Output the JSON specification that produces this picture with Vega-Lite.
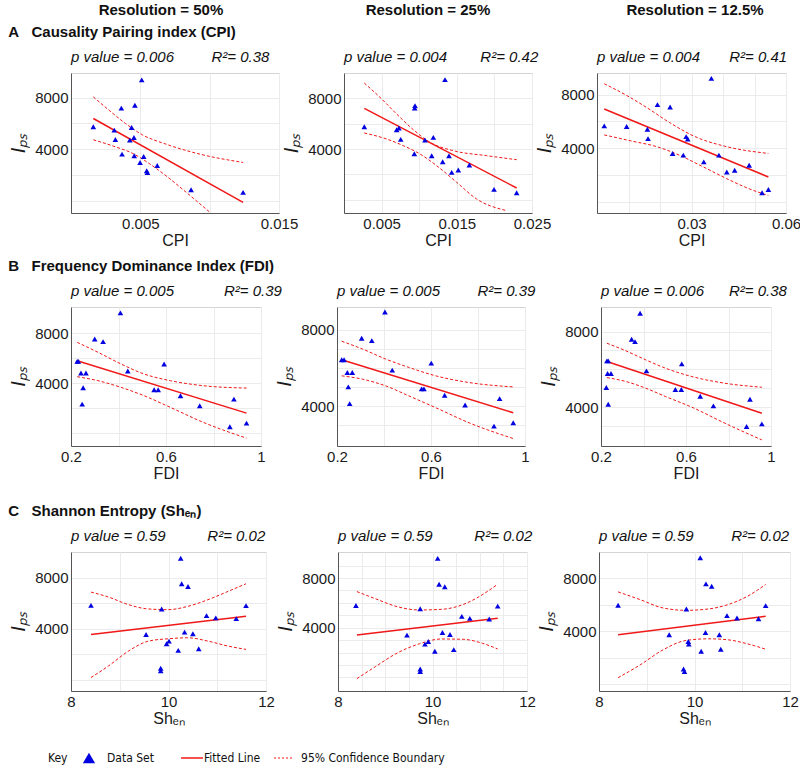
{
"$schema": "https://vega.github.io/schema/vega-lite/v6.json",
"padding": {"left": 8, "top": 2, "right": 0, "bottom": 2},
"config": {
 "font": "Liberation Sans",
 "view": {"stroke": "#d4d4d4"},
 "axis": {"domainColor": "#555", "gridColor": "#ebebeb", "tickSize": 0, "labelFontSize": 15, "labelColor": "#1a1a1a", "labelPadding": 3, "labelFlush": false, "labelOverlap": false, "titleFontSize": 16, "titleFontWeight": "normal", "titleColor": "#1a1a1a"},
 "axisY": {"titleFontSize": 20, "titleFontStyle": "italic", "titlePadding": 6},
 "axisX": {"titlePadding": 1}
},
"datasets": {
 "hdr": [{"label": "Resolution = 50%", "c": 0}, {"label": "Resolution = 25%", "c": 1}, {"label": "Resolution = 12.5%", "c": 2}],
 "key": [
  {"k": "label", "t": "Key", "x": -3.19},
  {"k": "marker", "x": 2.49},
  {"k": "label", "t": "Data Set", "x": 4.99},
  {"k": "solid", "x": 15.24, "x2": 18.28},
  {"k": "label", "t": "Fitted Line", "x": 18.42},
  {"k": "dashed", "x": 28.12, "x2": 30.89},
  {"k": "label", "t": "95% Confidence Boundary", "x": 31.86}
 ],
 "pts": [
  {"p":"A1","x":0.0051,"y":9366},{"p":"A1","x":0.00363,"y":7174},{"p":"A1","x":0.00461,"y":7406},{"p":"A1","x":0.00161,"y":5729},{"p":"A1","x":0.00312,"y":5471},{"p":"A1","x":0.00437,"y":5677},{"p":"A1","x":0.0032,"y":4748},{"p":"A1","x":0.00454,"y":4903},{"p":"A1","x":0.00424,"y":4697},{"p":"A1","x":0.00368,"y":3613},{"p":"A1","x":0.00456,"y":3484},{"p":"A1","x":0.00524,"y":3432},{"p":"A1","x":0.00498,"y":2968},{"p":"A1","x":0.00546,"y":2323},{"p":"A1","x":0.00551,"y":2194},{"p":"A1","x":0.00622,"y":2735},{"p":"A1","x":0.00866,"y":852},{"p":"A1","x":0.01241,"y":645},
  {"p":"A2","x":0.0027,"y":5763},{"p":"A2","x":0.007,"y":5526},{"p":"A2","x":0.0073,"y":5658},{"p":"A2","x":0.00754,"y":4763},{"p":"A2","x":0.00944,"y":7421},{"p":"A2","x":0.0094,"y":7237},{"p":"A2","x":0.00935,"y":3632},{"p":"A2","x":0.01077,"y":4711},{"p":"A2","x":0.01188,"y":4921},{"p":"A2","x":0.01166,"y":3474},{"p":"A2","x":0.01343,"y":9474},{"p":"A2","x":0.01312,"y":3000},{"p":"A2","x":0.01396,"y":3474},{"p":"A2","x":0.01432,"y":2158},{"p":"A2","x":0.0152,"y":2342},{"p":"A2","x":0.01667,"y":2737},{"p":"A2","x":0.01995,"y":816},{"p":"A2","x":0.02296,"y":553},
  {"p":"A3","x":0.0023,"y":5675},{"p":"A3","x":0.0094,"y":5625},{"p":"A3","x":0.016,"y":5425},{"p":"A3","x":0.0162,"y":4725},{"p":"A3","x":0.0192,"y":7250},{"p":"A3","x":0.0232,"y":7075},{"p":"A3","x":0.0283,"y":4875},{"p":"A3","x":0.0288,"y":4700},{"p":"A3","x":0.024,"y":3625},{"p":"A3","x":0.0274,"y":3500},{"p":"A3","x":0.0363,"y":9200},{"p":"A3","x":0.0339,"y":3000},{"p":"A3","x":0.0387,"y":3500},{"p":"A3","x":0.0412,"y":2250},{"p":"A3","x":0.0437,"y":2375},{"p":"A3","x":0.0483,"y":2750},{"p":"A3","x":0.0524,"y":700},{"p":"A3","x":0.0544,"y":950},
  {"p":"B1","x":0.226,"y":5760},{"p":"B1","x":0.231,"y":5760},{"p":"B1","x":0.242,"y":4827},{"p":"B1","x":0.263,"y":4827},{"p":"B1","x":0.251,"y":3653},{"p":"B1","x":0.247,"y":2347},{"p":"B1","x":0.3,"y":7547},{"p":"B1","x":0.335,"y":7333},{"p":"B1","x":0.408,"y":9627},{"p":"B1","x":0.439,"y":4987},{"p":"B1","x":0.55,"y":3493},{"p":"B1","x":0.567,"y":3493},{"p":"B1","x":0.592,"y":5547},{"p":"B1","x":0.661,"y":3013},{"p":"B1","x":0.742,"y":2213},{"p":"B1","x":0.869,"y":533},{"p":"B1","x":0.886,"y":2747},{"p":"B1","x":0.939,"y":827},
  {"p":"B2","x":0.22,"y":6432},{"p":"B2","x":0.23,"y":6432},{"p":"B2","x":0.244,"y":5762},{"p":"B2","x":0.265,"y":5762},{"p":"B2","x":0.248,"y":5004},{"p":"B2","x":0.254,"y":4123},{"p":"B2","x":0.305,"y":7559},{"p":"B2","x":0.348,"y":7436},{"p":"B2","x":0.404,"y":8934},{"p":"B2","x":0.435,"y":5885},{"p":"B2","x":0.56,"y":4899},{"p":"B2","x":0.57,"y":4899},{"p":"B2","x":0.601,"y":6255},{"p":"B2","x":0.658,"y":4564},{"p":"B2","x":0.745,"y":4053},{"p":"B2","x":0.868,"y":2943},{"p":"B2","x":0.892,"y":4388},{"p":"B2","x":0.95,"y":3119},
  {"p":"B3","x":0.225,"y":5040},{"p":"B3","x":0.228,"y":6449},{"p":"B3","x":0.234,"y":6449},{"p":"B3","x":0.231,"y":5780},{"p":"B3","x":0.247,"y":5780},{"p":"B3","x":0.234,"y":4159},{"p":"B3","x":0.344,"y":7594},{"p":"B3","x":0.36,"y":7471},{"p":"B3","x":0.384,"y":8969},{"p":"B3","x":0.414,"y":5921},{"p":"B3","x":0.55,"y":4934},{"p":"B3","x":0.578,"y":4934},{"p":"B3","x":0.58,"y":6291},{"p":"B3","x":0.667,"y":4581},{"p":"B3","x":0.729,"y":4070},{"p":"B3","x":0.885,"y":2978},{"p":"B3","x":0.901,"y":4423},{"p":"B3","x":0.957,"y":3119},
  {"p":"C1","x":8.41,"y":5818},{"p":"C1","x":9.54,"y":3533},{"p":"C1","x":9.86,"y":5532},{"p":"C1","x":9.84,"y":884},{"p":"C1","x":9.84,"y":676},{"p":"C1","x":9.96,"y":2805},{"p":"C1","x":10.01,"y":3013},{"p":"C1","x":10.2,"y":2286},{"p":"C1","x":10.25,"y":9506},{"p":"C1","x":10.27,"y":7507},{"p":"C1","x":10.4,"y":7299},{"p":"C1","x":10.33,"y":3714},{"p":"C1","x":10.5,"y":3584},{"p":"C1","x":10.62,"y":2416},{"p":"C1","x":10.78,"y":5013},{"p":"C1","x":10.97,"y":4831},{"p":"C1","x":11.39,"y":4779},{"p":"C1","x":11.59,"y":5792},
  {"p":"C2","x":8.38,"y":5792},{"p":"C2","x":9.46,"y":3403},{"p":"C2","x":9.74,"y":5532},{"p":"C2","x":9.74,"y":676},{"p":"C2","x":9.74,"y":468},{"p":"C2","x":9.84,"y":2676},{"p":"C2","x":9.91,"y":2883},{"p":"C2","x":10.05,"y":2104},{"p":"C2","x":10.11,"y":9584},{"p":"C2","x":10.14,"y":7506},{"p":"C2","x":10.26,"y":7298},{"p":"C2","x":10.21,"y":3610},{"p":"C2","x":10.37,"y":3455},{"p":"C2","x":10.45,"y":2234},{"p":"C2","x":10.62,"y":4909},{"p":"C2","x":10.79,"y":4753},{"p":"C2","x":11.2,"y":4701},{"p":"C2","x":11.38,"y":5740},
  {"p":"C3","x":8.4,"y":5975},{"p":"C3","x":9.47,"y":3747},{"p":"C3","x":9.83,"y":5696},{"p":"C3","x":9.77,"y":1164},{"p":"C3","x":9.79,"y":962},{"p":"C3","x":9.87,"y":3240},{"p":"C3","x":9.88,"y":3038},{"p":"C3","x":10.14,"y":2506},{"p":"C3","x":10.12,"y":9570},{"p":"C3","x":10.24,"y":7595},{"p":"C3","x":10.36,"y":7418},{"p":"C3","x":10.23,"y":3924},{"p":"C3","x":10.52,"y":3747},{"p":"C3","x":10.55,"y":2658},{"p":"C3","x":10.68,"y":5190},{"p":"C3","x":10.89,"y":5013},{"p":"C3","x":11.34,"y":4962},{"p":"C3","x":11.49,"y":5950}
 ],
 "lines": [
  {"p":"A1","s":"fit","x":0.00161,"y":6374},{"p":"A1","s":"fit","x":0.01241,"y":-128},
  {"p":"A1","s":"up","x":0.00161,"y":8051},{"p":"A1","s":"up","x":0.00271,"y":7044},{"p":"A1","s":"up","x":0.00393,"y":5987},{"p":"A1","s":"up","x":0.00515,"y":5109},{"p":"A1","s":"up","x":0.00685,"y":4387},{"p":"A1","s":"up","x":0.00929,"y":3613},{"p":"A1","s":"up","x":0.01241,"y":2968},
  {"p":"A1","s":"lo","x":0.00161,"y":4722},{"p":"A1","s":"lo","x":0.0032,"y":4181},{"p":"A1","s":"lo","x":0.00441,"y":3690},{"p":"A1","s":"lo","x":0.00563,"y":2891},{"p":"A1","s":"lo","x":0.00685,"y":1936},{"p":"A1","s":"lo","x":0.00832,"y":645},{"p":"A1","s":"lo","x":0.01002,"y":-902},
  {"p":"A2","s":"fit","x":0.0027,"y":7211},{"p":"A2","s":"fit","x":0.02296,"y":923},
  {"p":"A2","s":"up","x":0.0027,"y":9207},{"p":"A2","s":"up","x":0.00479,"y":8077},{"p":"A2","s":"up","x":0.007,"y":6762},{"p":"A2","s":"up","x":0.00922,"y":5526},{"p":"A2","s":"up","x":0.01144,"y":4526},{"p":"A2","s":"up","x":0.01454,"y":3868},{"p":"A2","s":"up","x":0.01897,"y":3474},{"p":"A2","s":"up","x":0.02296,"y":3158},
  {"p":"A2","s":"lo","x":0.0027,"y":5263},{"p":"A2","s":"lo","x":0.00567,"y":4789},{"p":"A2","s":"lo","x":0.00789,"y":4263},{"p":"A2","s":"lo","x":0.01011,"y":3605},{"p":"A2","s":"lo","x":0.01232,"y":2684},{"p":"A2","s":"lo","x":0.01498,"y":1370},{"p":"A2","s":"lo","x":0.01764,"y":55},{"p":"A2","s":"lo","x":0.02163,"y":-865},
  {"p":"A3","s":"fit","x":0.0023,"y":6925},{"p":"A3","s":"fit","x":0.0544,"y":1875},
  {"p":"A3","s":"up","x":0.0023,"y":8800},{"p":"A3","s":"up","x":0.0089,"y":8000},{"p":"A3","s":"up","x":0.016,"y":7000},{"p":"A3","s":"up","x":0.023,"y":5925},{"p":"A3","s":"up","x":0.0311,"y":4875},{"p":"A3","s":"up","x":0.0412,"y":4125},{"p":"A3","s":"up","x":0.0544,"y":3625},
  {"p":"A3","s":"lo","x":0.0023,"y":5000},{"p":"A3","s":"lo","x":0.0109,"y":4550},{"p":"A3","s":"lo","x":0.019,"y":4125},{"p":"A3","s":"lo","x":0.0261,"y":3500},{"p":"A3","s":"lo","x":0.0331,"y":2700},{"p":"A3","s":"lo","x":0.0412,"y":1750},{"p":"A3","s":"lo","x":0.0483,"y":1000},{"p":"A3","s":"lo","x":0.0544,"y":500},
  {"p":"B1","s":"fit","x":0.226,"y":5813},{"p":"B1","s":"fit","x":0.939,"y":1627},
  {"p":"B1","s":"up","x":0.226,"y":7280},{"p":"B1","s":"up","x":0.314,"y":6480},{"p":"B1","s":"up","x":0.411,"y":5547},{"p":"B1","s":"up","x":0.508,"y":4747},{"p":"B1","s":"up","x":0.619,"y":4213},{"p":"B1","s":"up","x":0.758,"y":3813},{"p":"B1","s":"up","x":0.939,"y":3627},
  {"p":"B1","s":"lo","x":0.226,"y":4533},{"p":"B1","s":"lo","x":0.314,"y":4213},{"p":"B1","s":"lo","x":0.411,"y":3680},{"p":"B1","s":"lo","x":0.508,"y":3013},{"p":"B1","s":"lo","x":0.619,"y":2080},{"p":"B1","s":"lo","x":0.758,"y":880},{"p":"B1","s":"lo","x":0.939,"y":-373},
  {"p":"B2","s":"fit","x":0.22,"y":6432},{"p":"B2","s":"fit","x":0.95,"y":3648},
  {"p":"B2","s":"up","x":0.22,"y":7401},{"p":"B2","s":"up","x":0.308,"y":6995},{"p":"B2","s":"up","x":0.407,"y":6467},{"p":"B2","s":"up","x":0.506,"y":6026},{"p":"B2","s":"up","x":0.62,"y":5586},{"p":"B2","s":"up","x":0.762,"y":5233},{"p":"B2","s":"up","x":0.95,"y":5004},
  {"p":"B2","s":"lo","x":0.22,"y":5586},{"p":"B2","s":"lo","x":0.308,"y":5410},{"p":"B2","s":"lo","x":0.407,"y":5057},{"p":"B2","s":"lo","x":0.506,"y":4529},{"p":"B2","s":"lo","x":0.62,"y":3912},{"p":"B2","s":"lo","x":0.762,"y":3119},{"p":"B2","s":"lo","x":0.95,"y":2291},
  {"p":"B3","s":"fit","x":0.228,"y":6414},{"p":"B3","s":"fit","x":0.957,"y":3683},
  {"p":"B3","s":"up","x":0.228,"y":7383},{"p":"B3","s":"up","x":0.318,"y":6978},{"p":"B3","s":"up","x":0.411,"y":6502},{"p":"B3","s":"up","x":0.504,"y":6062},{"p":"B3","s":"up","x":0.628,"y":5621},{"p":"B3","s":"up","x":0.783,"y":5269},{"p":"B3","s":"up","x":0.957,"y":5057},
  {"p":"B3","s":"lo","x":0.228,"y":5568},{"p":"B3","s":"lo","x":0.318,"y":5357},{"p":"B3","s":"lo","x":0.411,"y":5004},{"p":"B3","s":"lo","x":0.504,"y":4564},{"p":"B3","s":"lo","x":0.628,"y":4000},{"p":"B3","s":"lo","x":0.783,"y":3154},{"p":"B3","s":"lo","x":0.957,"y":2273},
  {"p":"C1","s":"fit","x":8.41,"y":3533},{"p":"C1","s":"fit","x":11.59,"y":4961},
  {"p":"C1","s":"up","x":8.41,"y":6857},{"p":"C1","s":"up","x":8.77,"y":6467},{"p":"C1","s":"up","x":9.18,"y":5870},{"p":"C1","s":"up","x":9.59,"y":5532},{"p":"C1","s":"up","x":9.99,"y":5480},{"p":"C1","s":"up","x":10.4,"y":5740},{"p":"C1","s":"up","x":10.81,"y":6260},{"p":"C1","s":"up","x":11.22,"y":6909},{"p":"C1","s":"up","x":11.59,"y":7507},
  {"p":"C1","s":"lo","x":8.41,"y":156},{"p":"C1","s":"lo","x":8.77,"y":1065},{"p":"C1","s":"lo","x":9.18,"y":2234},{"p":"C1","s":"lo","x":9.59,"y":3013},{"p":"C1","s":"lo","x":9.99,"y":3195},{"p":"C1","s":"lo","x":10.4,"y":3273},{"p":"C1","s":"lo","x":10.81,"y":3013},{"p":"C1","s":"lo","x":11.22,"y":2624},{"p":"C1","s":"lo","x":11.59,"y":2364},
  {"p":"C2","s":"fit","x":8.4,"y":3403},{"p":"C2","s":"fit","x":11.38,"y":4753},
  {"p":"C2","s":"up","x":8.4,"y":6909},{"p":"C2","s":"up","x":8.79,"y":6337},{"p":"C2","s":"up","x":9.26,"y":5688},{"p":"C2","s":"up","x":9.72,"y":5428},{"p":"C2","s":"up","x":10.19,"y":5480},{"p":"C2","s":"up","x":10.65,"y":5870},{"p":"C2","s":"up","x":11.05,"y":6649},{"p":"C2","s":"up","x":11.38,"y":7506},
  {"p":"C2","s":"lo","x":8.4,"y":-103},{"p":"C2","s":"lo","x":8.79,"y":858},{"p":"C2","s":"lo","x":9.26,"y":1974},{"p":"C2","s":"lo","x":9.72,"y":2701},{"p":"C2","s":"lo","x":10.19,"y":3091},{"p":"C2","s":"lo","x":10.65,"y":3065},{"p":"C2","s":"lo","x":11.05,"y":2753},{"p":"C2","s":"lo","x":11.38,"y":2286},
  {"p":"C3","s":"fit","x":8.4,"y":3747},{"p":"C3","s":"fit","x":11.49,"y":5139},
  {"p":"C3","s":"up","x":8.4,"y":6988},{"p":"C3","s":"up","x":8.86,"y":6405},{"p":"C3","s":"up","x":9.34,"y":5772},{"p":"C3","s":"up","x":9.82,"y":5595},{"p":"C3","s":"up","x":10.29,"y":5696},{"p":"C3","s":"up","x":10.7,"y":6026},{"p":"C3","s":"up","x":11.11,"y":6659},{"p":"C3","s":"up","x":11.49,"y":7545},
  {"p":"C3","s":"lo","x":8.4,"y":506},{"p":"C3","s":"lo","x":8.86,"y":1468},{"p":"C3","s":"lo","x":9.34,"y":2607},{"p":"C3","s":"lo","x":9.82,"y":3316},{"p":"C3","s":"lo","x":10.29,"y":3443},{"p":"C3","s":"lo","x":10.7,"y":3367},{"p":"C3","s":"lo","x":11.11,"y":3063},{"p":"C3","s":"lo","x":11.49,"y":2658}
 ]
},
"spacing": 6,
"vconcat": [
 {"width": 722, "height": 16, "view": {"stroke": null}, "data": {"name": "hdr"},
  "mark": {"type": "text", "fontSize": 15, "fontWeight": "bold", "color": "#111"},
  "encoding": {"x": {"field": "c", "type": "quantitative", "scale": {"domain": [-0.337, 2.367], "nice": false, "zero": false}, "axis": null}, "text": {"field": "label"}}},
 {"spacing": 9, "vconcat": [
  {"title": {"text": "A\u00a0\u00a0\u00a0Causality Pairing index (CPI)", "anchor": "start", "fontSize": 15, "fontWeight": "bold", "offset": 10, "color": "#111"},
   "bounds": "flush", "spacing": 65, "hconcat": [
   {"width": 208, "height": 140,
    "title": {"text": "p value = 0.006\u00a0\u00a0\u00a0\u00a0\u00a0\u00a0\u00a0\u00a0\u00a0R²= 0.38", "anchor": "start", "frame": "group", "fontSize": 15, "fontStyle": "italic", "fontWeight": "normal", "offset": 8, "color": "#111"},
    "encoding": {
     "x": {"field": "x", "type": "quantitative", "scale": {"domain": [0, 0.015], "nice": false, "zero": false}, "axis": {"values": [0.005, 0.01, 0.015], "labelExpr": "datum.value == 0.005 ? '0.005' : datum.value == 0.015 ? '0.015' : ''", "title": "CPI"}},
     "y": {"field": "y", "type": "quantitative", "scale": {"domain": [-950, 9900], "nice": false, "zero": false}, "axis": {"values": [0, 2000, 4000, 6000, 8000], "format": "d", "labelExpr": "datum.value == 4000 || datum.value == 8000 ? datum.label : ''", "title": "Iₚₛ"}}},
    "layer": [
     {"data": {"name": "lines"}, "transform": [{"filter": "datum.p == 'A1' && datum.s != 'fit'"}], "mark": {"type": "line", "color": "#f01818", "strokeWidth": 1, "strokeDash": [3, 2], "clip": true, "interpolate": "monotone"}, "encoding": {"detail": {"field": "s"}}},
     {"data": {"name": "lines"}, "transform": [{"filter": "datum.p == 'A1' && datum.s == 'fit'"}], "mark": {"type": "line", "color": "#f01818", "strokeWidth": 1.5, "clip": true}},
     {"data": {"name": "pts"}, "transform": [{"filter": "datum.p == 'A1'"}], "mark": {"type": "point", "shape": "triangle-up", "filled": true, "color": "#0000e0", "size": 32, "opacity": 1}}
    ]},
   {"width": 188, "height": 140,
    "title": {"text": "p value = 0.004\u00a0\u00a0\u00a0\u00a0\u00a0\u00a0\u00a0\u00a0R²= 0.42", "anchor": "start", "frame": "group", "fontSize": 15, "fontStyle": "italic", "fontWeight": "normal", "offset": 8, "color": "#111"},
    "encoding": {
     "x": {"field": "x", "type": "quantitative", "scale": {"domain": [0, 0.025], "nice": false, "zero": false}, "axis": {"values": [0.005, 0.01, 0.015, 0.02, 0.025], "labelExpr": "datum.value == 0.005 ? '0.005' : datum.value == 0.015 ? '0.015' : datum.value == 0.025 ? '0.025' : ''", "title": "CPI"}},
     "y": {"field": "y", "type": "quantitative", "scale": {"domain": [-1050, 10000], "nice": false, "zero": false}, "axis": {"values": [0, 2000, 4000, 6000, 8000], "format": "d", "labelExpr": "datum.value == 4000 || datum.value == 8000 ? datum.label : ''", "title": "Iₚₛ"}}},
    "layer": [
     {"data": {"name": "lines"}, "transform": [{"filter": "datum.p == 'A2' && datum.s != 'fit'"}], "mark": {"type": "line", "color": "#f01818", "strokeWidth": 1, "strokeDash": [3, 2], "clip": true, "interpolate": "monotone"}, "encoding": {"detail": {"field": "s"}}},
     {"data": {"name": "lines"}, "transform": [{"filter": "datum.p == 'A2' && datum.s == 'fit'"}], "mark": {"type": "line", "color": "#f01818", "strokeWidth": 1.5, "clip": true}},
     {"data": {"name": "pts"}, "transform": [{"filter": "datum.p == 'A2'"}], "mark": {"type": "point", "shape": "triangle-up", "filled": true, "color": "#0000e0", "size": 32, "opacity": 1}}
    ]},
   {"width": 189, "height": 140,
    "title": {"text": "p value = 0.004\u00a0\u00a0\u00a0\u00a0\u00a0\u00a0\u00a0R²= 0.41", "anchor": "start", "frame": "group", "fontSize": 15, "fontStyle": "italic", "fontWeight": "normal", "offset": 8, "color": "#111"},
    "encoding": {
     "x": {"field": "x", "type": "quantitative", "scale": {"domain": [0, 0.06], "nice": false, "zero": false}, "axis": {"values": [0.01, 0.02, 0.03, 0.04, 0.05, 0.06], "labelExpr": "datum.value == 0.03 ? '0.03' : datum.value == 0.06 ? '0.06' : ''", "title": "CPI"}},
     "y": {"field": "y", "type": "quantitative", "scale": {"domain": [-800, 9600], "nice": false, "zero": false}, "axis": {"values": [0, 2000, 4000, 6000, 8000], "format": "d", "labelExpr": "datum.value == 4000 || datum.value == 8000 ? datum.label : ''", "title": "Iₚₛ"}}},
    "layer": [
     {"data": {"name": "lines"}, "transform": [{"filter": "datum.p == 'A3' && datum.s != 'fit'"}], "mark": {"type": "line", "color": "#f01818", "strokeWidth": 1, "strokeDash": [3, 2], "clip": true, "interpolate": "monotone"}, "encoding": {"detail": {"field": "s"}}},
     {"data": {"name": "lines"}, "transform": [{"filter": "datum.p == 'A3' && datum.s == 'fit'"}], "mark": {"type": "line", "color": "#f01818", "strokeWidth": 1.5, "clip": true}},
     {"data": {"name": "pts"}, "transform": [{"filter": "datum.p == 'A3'"}], "mark": {"type": "point", "shape": "triangle-up", "filled": true, "color": "#0000e0", "size": 32, "opacity": 1}}
    ]}
  ]},
  {"spacing": 21, "vconcat": [
   {"title": {"text": "B\u00a0\u00a0\u00a0Frequency Dominance Index (FDI)", "anchor": "start", "fontSize": 15, "fontWeight": "bold", "offset": 10, "color": "#111"},
    "bounds": "flush", "spacing": 76, "hconcat": [
    {"width": 190, "height": 139,
     "title": {"text": "p value = 0.005\u00a0\u00a0\u00a0\u00a0\u00a0\u00a0\u00a0\u00a0\u00a0\u00a0\u00a0\u00a0R²= 0.39", "anchor": "start", "frame": "group", "fontSize": 15, "fontStyle": "italic", "fontWeight": "normal", "offset": 8, "color": "#111"},
     "encoding": {
      "x": {"field": "x", "type": "quantitative", "scale": {"domain": [0.2, 1], "nice": false, "zero": false}, "axis": {"values": [0.2, 0.4, 0.6, 0.8, 1], "labelExpr": "datum.value == 0.2 ? '0.2' : datum.value == 0.6 ? '0.6' : datum.value == 1 ? '1' : ''", "title": "FDI"}},
      "y": {"field": "y", "type": "quantitative", "scale": {"domain": [-1000, 10100], "nice": false, "zero": false}, "axis": {"values": [0, 2000, 4000, 6000, 8000], "format": "d", "labelExpr": "datum.value == 4000 || datum.value == 8000 ? datum.label : ''", "title": "Iₚₛ"}}},
     "layer": [
      {"data": {"name": "lines"}, "transform": [{"filter": "datum.p == 'B1' && datum.s != 'fit'"}], "mark": {"type": "line", "color": "#f01818", "strokeWidth": 1, "strokeDash": [3, 2], "clip": true, "interpolate": "monotone"}, "encoding": {"detail": {"field": "s"}}},
      {"data": {"name": "lines"}, "transform": [{"filter": "datum.p == 'B1' && datum.s == 'fit'"}], "mark": {"type": "line", "color": "#f01818", "strokeWidth": 1.5, "clip": true}},
      {"data": {"name": "pts"}, "transform": [{"filter": "datum.p == 'B1'"}], "mark": {"type": "point", "shape": "triangle-up", "filled": true, "color": "#0000e0", "size": 32, "opacity": 1}}
     ]},
    {"width": 188, "height": 139,
     "title": {"text": "p value = 0.005\u00a0\u00a0\u00a0\u00a0\u00a0\u00a0\u00a0\u00a0\u00a0R²= 0.39", "anchor": "start", "frame": "group", "fontSize": 15, "fontStyle": "italic", "fontWeight": "normal", "offset": 8, "color": "#111"},
     "encoding": {
      "x": {"field": "x", "type": "quantitative", "scale": {"domain": [0.2, 1], "nice": false, "zero": false}, "axis": {"values": [0.2, 0.4, 0.6, 0.8, 1], "labelExpr": "datum.value == 0.2 ? '0.2' : datum.value == 0.6 ? '0.6' : datum.value == 1 ? '1' : ''", "title": "FDI"}},
      "y": {"field": "y", "type": "quantitative", "scale": {"domain": [1900, 9200], "nice": false, "zero": false}, "axis": {"values": [3000, 4000, 5000, 6000, 7000, 8000], "format": "d", "labelExpr": "datum.value == 4000 || datum.value == 8000 ? datum.label : ''", "title": "Iₚₛ"}}},
     "layer": [
      {"data": {"name": "lines"}, "transform": [{"filter": "datum.p == 'B2' && datum.s != 'fit'"}], "mark": {"type": "line", "color": "#f01818", "strokeWidth": 1, "strokeDash": [3, 2], "clip": true, "interpolate": "monotone"}, "encoding": {"detail": {"field": "s"}}},
      {"data": {"name": "lines"}, "transform": [{"filter": "datum.p == 'B2' && datum.s == 'fit'"}], "mark": {"type": "line", "color": "#f01818", "strokeWidth": 1.5, "clip": true}},
      {"data": {"name": "pts"}, "transform": [{"filter": "datum.p == 'B2'"}], "mark": {"type": "point", "shape": "triangle-up", "filled": true, "color": "#0000e0", "size": 32, "opacity": 1}}
     ]},
    {"width": 170, "height": 139,
     "title": {"text": "p value = 0.006\u00a0\u00a0\u00a0\u00a0\u00a0\u00a0R²= 0.38", "anchor": "start", "frame": "group", "fontSize": 15, "fontStyle": "italic", "fontWeight": "normal", "offset": 8, "color": "#111"},
     "encoding": {
      "x": {"field": "x", "type": "quantitative", "scale": {"domain": [0.2, 1], "nice": false, "zero": false}, "axis": {"values": [0.2, 0.4, 0.6, 0.8, 1], "labelExpr": "datum.value == 0.2 ? '0.2' : datum.value == 0.6 ? '0.6' : datum.value == 1 ? '1' : ''", "title": "FDI"}},
      "y": {"field": "y", "type": "quantitative", "scale": {"domain": [1950, 9300], "nice": false, "zero": false}, "axis": {"values": [3000, 4000, 5000, 6000, 7000, 8000], "format": "d", "labelExpr": "datum.value == 4000 || datum.value == 8000 ? datum.label : ''", "title": "Iₚₛ"}}},
     "layer": [
      {"data": {"name": "lines"}, "transform": [{"filter": "datum.p == 'B3' && datum.s != 'fit'"}], "mark": {"type": "line", "color": "#f01818", "strokeWidth": 1, "strokeDash": [3, 2], "clip": true, "interpolate": "monotone"}, "encoding": {"detail": {"field": "s"}}},
      {"data": {"name": "lines"}, "transform": [{"filter": "datum.p == 'B3' && datum.s == 'fit'"}], "mark": {"type": "line", "color": "#f01818", "strokeWidth": 1.5, "clip": true}},
      {"data": {"name": "pts"}, "transform": [{"filter": "datum.p == 'B3'"}], "mark": {"type": "point", "shape": "triangle-up", "filled": true, "color": "#0000e0", "size": 32, "opacity": 1}}
     ]}
   ]},
   {"spacing": 21, "vconcat": [
    {"title": {"text": "C\u00a0\u00a0\u00a0Shannon Entropy (Shₑₙ)", "anchor": "start", "fontSize": 15, "fontWeight": "bold", "offset": 10, "color": "#111"},
     "bounds": "flush", "spacing": 72, "hconcat": [
     {"width": 195, "height": 139,
      "title": {"text": "p value = 0.59\u00a0\u00a0\u00a0\u00a0\u00a0\u00a0\u00a0\u00a0\u00a0\u00a0R²= 0.02", "anchor": "start", "frame": "group", "fontSize": 15, "fontStyle": "italic", "fontWeight": "normal", "offset": 8, "color": "#111"},
      "encoding": {
       "x": {"field": "x", "type": "quantitative", "scale": {"domain": [8, 12], "nice": false, "zero": false}, "axis": {"values": [8, 9, 10, 11, 12], "labelExpr": "datum.value == 8 ? '8' : datum.value == 10 ? '10' : datum.value == 12 ? '12' : ''", "title": "Shₑₙ"}},
       "y": {"field": "y", "type": "quantitative", "scale": {"domain": [-900, 10000], "nice": false, "zero": false}, "axis": {"values": [0, 2000, 4000, 6000, 8000], "format": "d", "labelExpr": "datum.value == 4000 || datum.value == 8000 ? datum.label : ''", "title": "Iₚₛ"}}},
      "layer": [
       {"data": {"name": "lines"}, "transform": [{"filter": "datum.p == 'C1' && datum.s != 'fit'"}], "mark": {"type": "line", "color": "#f01818", "strokeWidth": 1, "strokeDash": [3, 2], "clip": true, "interpolate": "monotone"}, "encoding": {"detail": {"field": "s"}}},
       {"data": {"name": "lines"}, "transform": [{"filter": "datum.p == 'C1' && datum.s == 'fit'"}], "mark": {"type": "line", "color": "#f01818", "strokeWidth": 1.5, "clip": true}},
       {"data": {"name": "pts"}, "transform": [{"filter": "datum.p == 'C1'"}], "mark": {"type": "point", "shape": "triangle-up", "filled": true, "color": "#0000e0", "size": 32, "opacity": 1}}
      ]},
     {"width": 189, "height": 139,
      "title": {"text": "p value = 0.59\u00a0\u00a0\u00a0\u00a0\u00a0\u00a0\u00a0\u00a0\u00a0\u00a0R²= 0.02", "anchor": "start", "frame": "group", "fontSize": 15, "fontStyle": "italic", "fontWeight": "normal", "offset": 8, "color": "#111"},
      "encoding": {
       "x": {"field": "x", "type": "quantitative", "scale": {"domain": [8, 12], "nice": false, "zero": false}, "axis": {"values": [8, 8.5, 9, 9.5, 10, 10.5, 11, 11.5, 12], "labelExpr": "datum.value == 8 ? '8' : datum.value == 10 ? '10' : datum.value == 12 ? '12' : ''", "title": "Shₑₙ"}},
       "y": {"field": "y", "type": "quantitative", "scale": {"domain": [-1100, 10100], "nice": false, "zero": false}, "axis": {"values": [0, 1000, 2000, 3000, 4000, 5000, 6000, 7000, 8000, 9000], "format": "d", "labelExpr": "datum.value == 4000 || datum.value == 8000 ? datum.label : ''", "title": "Iₚₛ"}}},
      "layer": [
       {"data": {"name": "lines"}, "transform": [{"filter": "datum.p == 'C2' && datum.s != 'fit'"}], "mark": {"type": "line", "color": "#f01818", "strokeWidth": 1, "strokeDash": [3, 2], "clip": true, "interpolate": "monotone"}, "encoding": {"detail": {"field": "s"}}},
       {"data": {"name": "lines"}, "transform": [{"filter": "datum.p == 'C2' && datum.s == 'fit'"}], "mark": {"type": "line", "color": "#f01818", "strokeWidth": 1.5, "clip": true}},
       {"data": {"name": "pts"}, "transform": [{"filter": "datum.p == 'C2'"}], "mark": {"type": "point", "shape": "triangle-up", "filled": true, "color": "#0000e0", "size": 32, "opacity": 1}}
      ]},
     {"width": 191, "height": 139,
      "title": {"text": "p value = 0.59\u00a0\u00a0\u00a0\u00a0\u00a0\u00a0\u00a0\u00a0\u00a0R²= 0.02", "anchor": "start", "frame": "group", "fontSize": 15, "fontStyle": "italic", "fontWeight": "normal", "offset": 8, "color": "#111"},
      "encoding": {
       "x": {"field": "x", "type": "quantitative", "scale": {"domain": [8, 12], "nice": false, "zero": false}, "axis": {"values": [8, 9, 10, 11, 12], "labelExpr": "datum.value == 8 ? '8' : datum.value == 10 ? '10' : datum.value == 12 ? '12' : ''", "title": "Shₑₙ"}},
       "y": {"field": "y", "type": "quantitative", "scale": {"domain": [-500, 10000], "nice": false, "zero": false}, "axis": {"values": [0, 2000, 4000, 6000, 8000], "format": "d", "labelExpr": "datum.value == 4000 || datum.value == 8000 ? datum.label : ''", "title": "Iₚₛ"}}},
      "layer": [
       {"data": {"name": "lines"}, "transform": [{"filter": "datum.p == 'C3' && datum.s != 'fit'"}], "mark": {"type": "line", "color": "#f01818", "strokeWidth": 1, "strokeDash": [3, 2], "clip": true, "interpolate": "monotone"}, "encoding": {"detail": {"field": "s"}}},
       {"data": {"name": "lines"}, "transform": [{"filter": "datum.p == 'C3' && datum.s == 'fit'"}], "mark": {"type": "line", "color": "#f01818", "strokeWidth": 1.5, "clip": true}},
       {"data": {"name": "pts"}, "transform": [{"filter": "datum.p == 'C3'"}], "mark": {"type": "point", "shape": "triangle-up", "filled": true, "color": "#0000e0", "size": 32, "opacity": 1}}
      ]}
    ]},
    {"width": 722, "height": 20, "view": {"stroke": null}, "data": {"name": "key"},
     "encoding": {
      "x": {"field": "x", "type": "quantitative", "scale": {"domain": [0, 100], "nice": false, "zero": false}, "axis": null},
      "y": {"datum": 0, "type": "quantitative", "scale": {"domain": [-1, 1]}, "axis": null}},
     "layer": [
      {"transform": [{"filter": "datum.k == 'label'"}], "mark": {"type": "text", "align": "left", "baseline": "middle", "font": "DejaVu Sans Condensed, Liberation Sans", "fontSize": 12, "color": "#111"}, "encoding": {"text": {"field": "t"}}},
      {"transform": [{"filter": "datum.k == 'marker'"}], "mark": {"type": "point", "shape": "triangle-up", "filled": true, "size": 150, "color": "#0000e0", "opacity": 1}},
      {"transform": [{"filter": "datum.k == 'solid'"}], "mark": {"type": "rule", "color": "#f01818", "strokeWidth": 1.5}, "encoding": {"x2": {"field": "x2"}}},
      {"transform": [{"filter": "datum.k == 'dashed'"}], "mark": {"type": "rule", "color": "#f01818", "strokeWidth": 1.2, "strokeDash": [2, 2]}, "encoding": {"x2": {"field": "x2"}}}
     ]}
   ]}
  ]}
 ]}
]
}
